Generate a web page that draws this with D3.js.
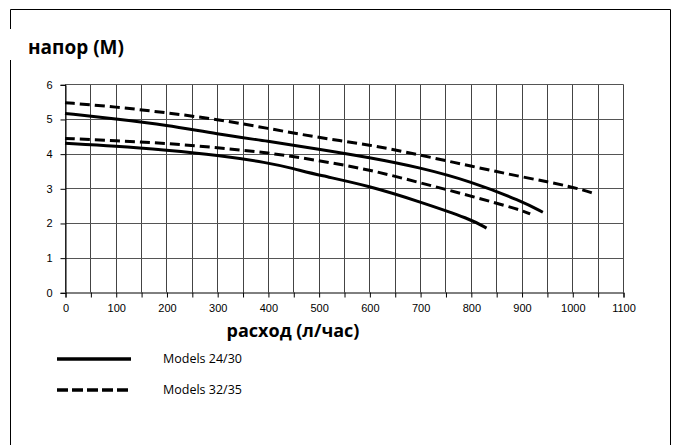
<!DOCTYPE html>
<html>
<head>
<meta charset="utf-8">
<script src="https://cdn.jsdelivr.net/npm/d3@7"></script>
<style>
  body { margin: 0; background: #fff; }
  svg { display: block; }
</style>
</head>
<body>
<script>
// flow (л/час) and head (М)
var flow_24_30_a = [0, 100, 200, 300, 400, 500, 600, 700, 800, 900, 942];
var head_24_30_a = [5.16, 5.0, 4.83, 4.56, 4.36, 4.13, 3.89, 3.6, 3.2, 2.63, 2.31];
var flow_24_30_b = [0, 100, 200, 300, 400, 450, 500, 600, 700, 800, 831];
var head_24_30_b = [4.3, 4.22, 4.1, 3.96, 3.74, 3.57, 3.38, 3.07, 2.61, 2.11, 1.85];
var flow_32_35_a = [0, 100, 200, 300, 400, 500, 600, 700, 800, 900, 1000, 1045];
var head_32_35_a = [5.47, 5.35, 5.18, 4.99, 4.73, 4.46, 4.26, 3.96, 3.64, 3.33, 3.05, 2.84];
var flow_32_35_b = [0, 100, 200, 300, 400, 500, 600, 700, 800, 900, 917];
var head_32_35_b = [4.44, 4.37, 4.3, 4.17, 4.03, 3.8, 3.54, 3.16, 2.78, 2.37, 2.26];

var x_ticks = [0, 100, 200, 300, 400, 500, 600, 700, 800, 900, 1000, 1100];
var x_grid = d3.range(0, 1101, 50);
var y_ticks = [0, 1, 2, 3, 4, 5, 6];
var legend_labels = ['Models 24/30', 'Models 32/35'];

var width = 675, height = 445;
var svg = d3.select('body').append('svg')
    .attr('width', width)
    .attr('height', height);

// outer frame with a gap where the title sits
svg.append('path')
    .attr('d', 'M10.5,460 V9.5 H670.5 V460')
    .attr('fill', 'none')
    .attr('stroke', '#000')
    .attr('stroke-width', 1);
svg.append('rect')
    .attr('x', 6).attr('y', 29).attr('width', 10).attr('height', 31)
    .attr('fill', '#fff');

svg.append('text').text('напор (М)')
    .attr('x', 28).attr('y', 54)
    .style('font-family', '"Open Sans", sans-serif')
    .style('font-weight', 'bold')
    .style('font-size', '19px');

var x = d3.scaleLinear().domain([0, 1100]).range([65, 623]);
var y = d3.scaleLinear().domain([0, 6]).range([292.3, 84.3]);

// grid
var grid = svg.append('g');
grid.selectAll('.vgrid').data(x_grid)
  .enter().append('line')
    .attr('x1', d => Math.round(x(d)) + 0.5)
    .attr('x2', d => Math.round(x(d)) + 0.5)
    .attr('y1', y(0))
    .attr('y2', Math.round(y(6)) + 0.5)
    .attr('stroke', '#444');
grid.selectAll('.hgrid').data(y_ticks.slice(1))
  .enter().append('line')
    .attr('x1', x(0))
    .attr('x2', Math.round(x(1100)) + 0.5)
    .attr('y1', d => Math.round(y(d)) + 0.5)
    .attr('y2', d => Math.round(y(d)) + 0.5)
    .attr('stroke', '#555');

// axes
var xaxis = svg.append('g')
    .attr('transform', 'translate(0.5,' + (Math.round(y(0)) + 0.5) + ')')
    .call(d3.axisBottom(x).tickValues(x_grid).tickSize(5).tickFormat(d => x_ticks.indexOf(d) >= 0 ? d : ''));
var yaxis = svg.append('g')
    .attr('transform', 'translate(' + (Math.round(x(0)) + 0.5) + ',0.5)')
    .call(d3.axisLeft(y).tickValues(y_ticks).tickSize(5).tickPadding(8).tickFormat(d3.format('d')));
[xaxis, yaxis].forEach(function(a) {
  a.select('.domain').attr('stroke', '#000');
  a.selectAll('.tick line').attr('stroke', '#000');
  a.selectAll('text')
    .style('font-family', '"Liberation Sans", Arial, sans-serif')
    .style('font-size', '11px')
    .attr('fill', '#000');
});
xaxis.selectAll('text').attr('dy', '1.05em');

svg.append('text').text('расход (л/час)')
    .attr('x', 293).attr('y', 337)
    .attr('text-anchor', 'middle')
    .style('font-family', '"Open Sans", sans-serif')
    .style('font-weight', 'bold')
    .style('font-size', '18px');

// curves
var series = [
  {f: flow_24_30_a, h: head_24_30_a, dash: null},
  {f: flow_24_30_b, h: head_24_30_b, dash: null},
  {f: flow_32_35_a, h: head_32_35_a, dash: '10,5'},
  {f: flow_32_35_b, h: head_32_35_b, dash: '10,5'}
];
var line = d3.line()
    .x(d => x(d[0]))
    .y(d => y(d[1]))
    .curve(d3.curveBasis);
svg.selectAll('.curve').data(series)
  .enter().append('path')
    .attr('d', s => line(s.f.map((v, i) => [v, s.h[i]])))
    .attr('fill', 'none')
    .attr('stroke', '#000')
    .attr('stroke-width', 3)
    .attr('stroke-dasharray', s => s.dash);

// legend
var legend = svg.selectAll('.legend').data(legend_labels)
  .enter().append('g')
    .attr('transform', (d, i) => 'translate(57,' + (359 + i * 31) + ')');
legend.append('line')
    .attr('x1', 0).attr('x2', 74)
    .attr('y1', 0).attr('y2', 0)
    .attr('stroke', '#000')
    .attr('stroke-width', 3.5)
    .attr('stroke-dasharray', (d, i) => i ? '11,4' : null);
legend.append('text').text(d => d)
    .attr('x', 106).attr('y', 4)
    .style('font-family', '"Open Sans", sans-serif')
    .style('font-size', '12.5px');
</script>
</body>
</html>
